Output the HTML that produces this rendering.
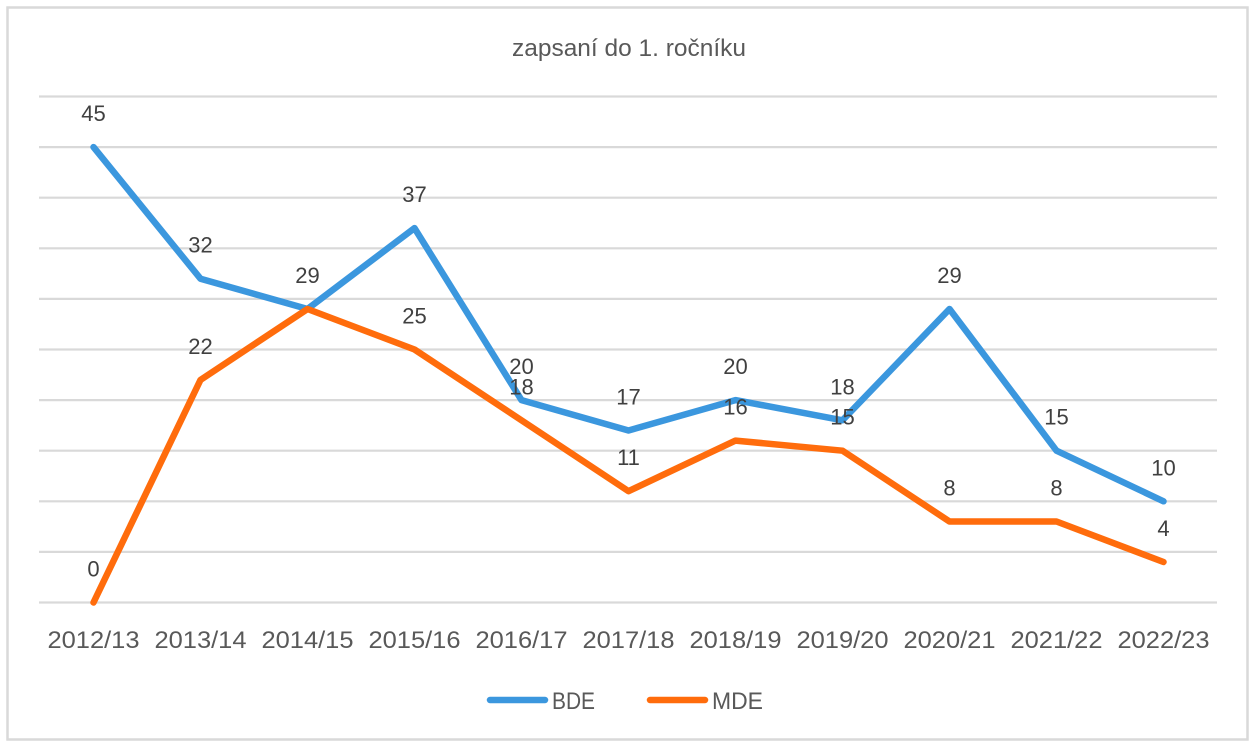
<!DOCTYPE html>
<html>
<head>
<meta charset="utf-8">
<style>
  html, body { margin:0; padding:0; background:#ffffff; }
  svg { display:block; }
  text { font-family: "Liberation Sans", "DejaVu Sans", sans-serif; }
</style>
</head>
<body>
<svg width="1259" height="750" viewBox="0 0 1259 750" xmlns="http://www.w3.org/2000/svg">
  <rect x="0" y="0" width="1259" height="750" fill="#ffffff"/>
  <rect x="7.5" y="7.5" width="1240" height="732" fill="#ffffff" stroke="#d9d9d9" stroke-width="2.5"/>

  <!-- title -->
  <text x="629" y="56" font-size="24.5" fill="#595959" text-anchor="middle" textLength="234" lengthAdjust="spacingAndGlyphs">zapsaní do 1. ročníku</text>

  <!-- gridlines -->
  <g stroke="#d9d9d9" stroke-width="2.2">
    <line x1="39" y1="96.5" x2="1217" y2="96.5"/>
    <line x1="39" y1="147.1" x2="1217" y2="147.1"/>
    <line x1="39" y1="197.7" x2="1217" y2="197.7"/>
    <line x1="39" y1="248.3" x2="1217" y2="248.3"/>
    <line x1="39" y1="298.9" x2="1217" y2="298.9"/>
    <line x1="39" y1="349.5" x2="1217" y2="349.5"/>
    <line x1="39" y1="400.1" x2="1217" y2="400.1"/>
    <line x1="39" y1="450.7" x2="1217" y2="450.7"/>
    <line x1="39" y1="501.3" x2="1217" y2="501.3"/>
    <line x1="39" y1="551.9" x2="1217" y2="551.9"/>
    <line x1="39" y1="602.5" x2="1217" y2="602.5"/>
  </g>

  <!-- series -->
  <polyline fill="none" stroke="#3b97de" stroke-width="6.5" stroke-linejoin="round" stroke-linecap="round"
    points="93.5,147.1 200.5,278.7 307.5,309.0 414.5,228.1 521.5,400.1 628.5,430.5 735.5,400.1 842.5,420.3 949.5,309.0 1056.5,450.7 1163.5,501.3"/>
  <polyline fill="none" stroke="#ff6c0c" stroke-width="6.5" stroke-linejoin="round" stroke-linecap="round"
    points="93.5,602.5 200.5,379.9 307.5,309.0 414.5,349.5 521.5,420.3 628.5,491.2 735.5,440.6 842.5,450.7 949.5,521.5 1056.5,521.5 1163.5,562.0"/>

  <!-- data labels -->
  <g font-size="22" fill="#404040" text-anchor="middle">
    <!-- BDE -->
    <text x="93.5" y="121">45</text>
    <text x="200.5" y="252.7">32</text>
    <text x="307.5" y="283">29</text>
    <text x="414.5" y="202.1">37</text>
    <text x="521.5" y="374.1">20</text>
    <text x="628.5" y="404.5">17</text>
    <text x="735.5" y="374.1">20</text>
    <text x="842.5" y="394.3">18</text>
    <text x="949.5" y="283">29</text>
    <text x="1056.5" y="424.7">15</text>
    <text x="1163.5" y="475.3">10</text>
    <!-- MDE -->
    <text x="93.5" y="576.5">0</text>
    <text x="200.5" y="353.9">22</text>
    <text x="521.5" y="394.3">18</text>
    <text x="414.5" y="323.5">25</text>
    <text x="628.5" y="465.2">11</text>
    <text x="735.5" y="414.6">16</text>
    <text x="842.5" y="424.7">15</text>
    <text x="949.5" y="495.5">8</text>
    <text x="1056.5" y="495.5">8</text>
    <text x="1163.5" y="536">4</text>
  </g>

  <!-- category axis labels -->
  <g font-size="24" fill="#595959" text-anchor="middle">
    <text x="93.5" y="648" textLength="92" lengthAdjust="spacingAndGlyphs">2012/13</text>
    <text x="200.5" y="648" textLength="92" lengthAdjust="spacingAndGlyphs">2013/14</text>
    <text x="307.5" y="648" textLength="92" lengthAdjust="spacingAndGlyphs">2014/15</text>
    <text x="414.5" y="648" textLength="92" lengthAdjust="spacingAndGlyphs">2015/16</text>
    <text x="521.5" y="648" textLength="92" lengthAdjust="spacingAndGlyphs">2016/17</text>
    <text x="628.5" y="648" textLength="92" lengthAdjust="spacingAndGlyphs">2017/18</text>
    <text x="735.5" y="648" textLength="92" lengthAdjust="spacingAndGlyphs">2018/19</text>
    <text x="842.5" y="648" textLength="92" lengthAdjust="spacingAndGlyphs">2019/20</text>
    <text x="949.5" y="648" textLength="92" lengthAdjust="spacingAndGlyphs">2020/21</text>
    <text x="1056.5" y="648" textLength="92" lengthAdjust="spacingAndGlyphs">2021/22</text>
    <text x="1163.5" y="648" textLength="92" lengthAdjust="spacingAndGlyphs">2022/23</text>
  </g>

  <!-- legend -->
  <line x1="490" y1="700" x2="545" y2="700" stroke="#3b97de" stroke-width="6.5" stroke-linecap="round"/>
  <text x="552" y="709" font-size="24" fill="#595959" textLength="43" lengthAdjust="spacingAndGlyphs">BDE</text>
  <line x1="650" y1="700" x2="705" y2="700" stroke="#ff6c0c" stroke-width="6.5" stroke-linecap="round"/>
  <text x="712" y="709" font-size="24" fill="#595959" textLength="51" lengthAdjust="spacingAndGlyphs">MDE</text>
</svg>
</body>
</html>
